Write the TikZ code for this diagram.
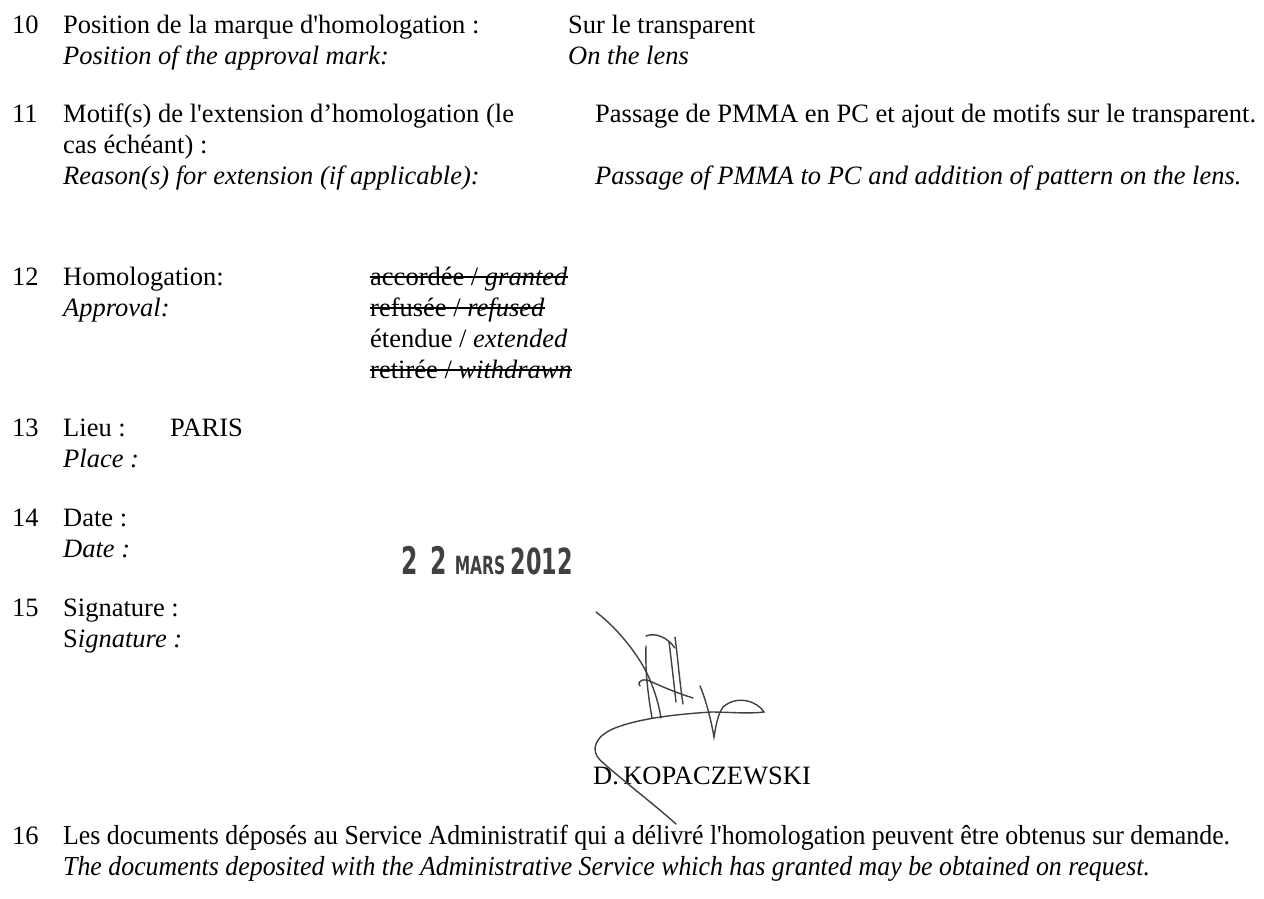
\documentclass[tikz,border=0pt]{standalone}
\usepackage{fontspec}
\setmainfont{Liberation Serif}[Ligatures=TeXOff]
\newfontfamily\narrowserif{Liberation Serif}[Ligatures=TeXOff, FakeStretch=0.94]
\newfontfamily\stampfont{DejaVu Sans}[FakeStretch=0.62]

\begin{document}
\begin{tikzpicture} [
x=1pt, y=-1pt,
every node/.style={inner sep=0pt, anchor=base west, font=\fontsize{26.5}{31}\selectfont},
numnode/.style={},
frnode/.style={},
ennode/.style={font=\fontsize{26.5}{31}\selectfont\itshape},
notenode/.style={font=\fontsize{27.5}{31}\selectfont\narrowserif},
strike/.style={line width=1.4pt},
stampnode/.style={anchor=base east, font=\fontsize{38}{38}\selectfont\stampfont\bfseries, text=black!75},
scribble/.style={line width=1.4pt, black!75, line cap=round},
]
\useasboundingbox (0,0) rectangle (1264,898);

%Item 10
\node[numnode] (n10)  at (12,33)   {10};
\node[frnode]  (q10)  at (63,33)   {Position de la marque d'homologation :};
\node[ennode]  (e10)  at (63,64)   {Position of the approval mark:};
\node[frnode]  (a10)  at (568,33)  {Sur le transparent};
\node[ennode]  (b10)  at (568,64)  {On the lens};

%Item 11
\node[numnode] (n11)  at (12,122)  {11};
\node[frnode]  (q11)  at (63,122)  {Motif(s) de l'extension d’homologation (le};
\node[frnode]  (r11)  at (63,153)  {cas échéant) :};
\node[ennode]  (e11)  at (63,184)  {Reason(s) for extension (if applicable):};
\node[frnode]  (a11)  at (595,122) {Passage de PMMA en PC et ajout de motifs sur le transparent.};
\node[ennode]  (b11)  at (595,184) {Passage of PMMA to PC and addition of pattern on the lens.};

%Item 12
\node[numnode] (n12)  at (12,285)  {12};
\node[frnode]  (q12)  at (63,285)  {Homologation:};
\node[ennode]  (e12)  at (63,316)  {Approval:};
\node[frnode]  (granted)   at (370,285) {accordée / \textit{granted}};
\node[frnode]  (refused)   at (370,316) {refusée / \textit{refused}};
\node[frnode]  (extended)  at (370,347) {étendue / \textit{extended}};
\node[frnode]  (withdrawn) at (370,378) {retirée / \textit{withdrawn}};

%Item 13
\node[numnode] (n13)  at (12,436)  {13};
\node[frnode]  (q13)  at (63,436)  {Lieu :};
\node[ennode]  (e13)  at (63,467)  {Place :};
\node[frnode]  (place) at (170,436) {PARIS};

%Item 14
\node[numnode] (n14)  at (12,526)  {14};
\node[frnode]  (q14)  at (63,526)  {Date :};
\node[ennode]  (e14)  at (63,557)  {Date :};
\node[stampnode] (stamp) at (573,574) {2\,\,2 \fontsize{25}{25}\selectfont MARS \fontsize{36}{36}\selectfont 2012};

%Item 15
\node[numnode] (n15)  at (12,616)  {15};
\node[frnode]  (q15)  at (63,616)  {Signature :};
\node[ennode]  (e15)  at (63,647)  {\upshape S\itshape ignature :};
\node[frnode]  (signer) at (593,784) {D.\,KOPACZEWSKI};

%Item 16
\node[numnode]  (n16)  at (12,844)  {16};
\node[notenode] (q16)  at (63,844)  {Les documents déposés au Service Administratif qui a délivré l'homologation peuvent être obtenus sur demande.};
\node[notenode] (e16)  at (63,875)  {\itshape The documents deposited with the Administrative Service which has granted may be obtained on request.};

%Strikes
\draw[strike] ([yshift=8pt]granted.base west) -- ([yshift=8pt]granted.base east);
\draw[strike] ([yshift=8pt]refused.base west) -- ([yshift=8pt]refused.base east);
\draw[strike] ([yshift=8pt]withdrawn.base west) -- ([yshift=8pt]withdrawn.base east);

%Signature
\draw[scribble] (596,612) .. controls (620,630) and (642,660) .. (650,680)
  .. controls (655,692) and (659,705) .. (661,718);
\draw[scribble] (646,646) .. controls (645,670) and (648,695) .. (652,718);
\draw[scribble] (646,636) .. controls (656,632) and (668,638) .. (675,648);
\draw[scribble] (675,637) .. controls (678,660) and (680,685) .. (683,704);
\draw[scribble] (669,642) .. controls (672,665) and (674,685) .. (676,702);
\draw[scribble] (640,686) .. controls (636,680) and (645,678) .. (652,682)
  .. controls (665,688) and (680,694) .. (693,698);
\draw[scribble] (700,686) .. controls (706,700) and (711,720) .. (714,737)
  .. controls (716,725) and (718,714) .. (723,707)
  .. controls (738,694) and (758,702) .. (764,712)
  .. controls (748,714) and (728,712) .. (711,712);
\draw[scribble] (711,712) .. controls (680,714) and (640,718) .. (615,728)
  .. controls (595,736) and (590,750) .. (600,760)
  .. controls (622,780) and (655,805) .. (676,824);
\end{tikzpicture}
\end{document}
